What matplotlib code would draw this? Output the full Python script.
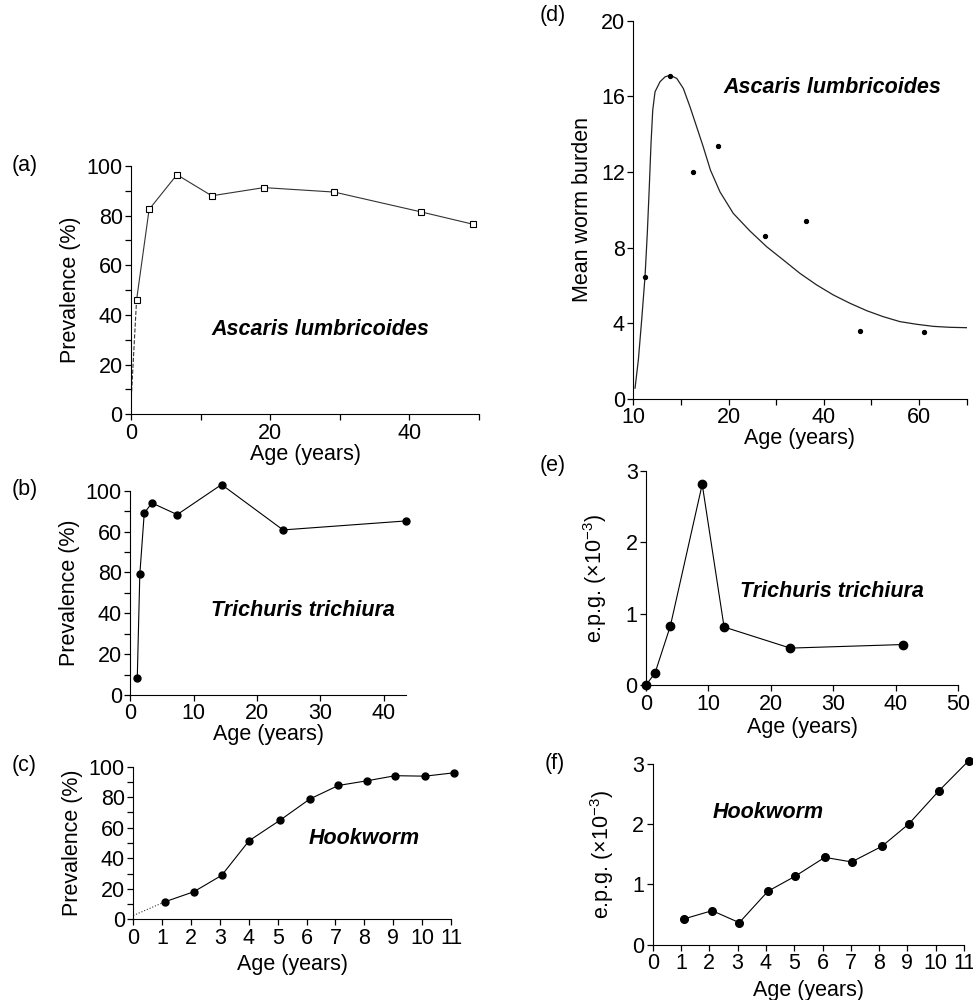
import numpy as np
import matplotlib
matplotlib.use('Agg')
import matplotlib.pyplot as plt
from matplotlib.ticker import MultipleLocator

plt.rcParams['font.family'] = ['Liberation Sans', 'DejaVu Sans']
plt.rcParams['mathtext.fontset'] = 'custom'
plt.rcParams['mathtext.rm'] = 'Liberation Sans'
plt.rcParams['font.size'] = 15.5

# (a) Ascaris prevalence
a_age = [0.8, 2.6, 6.6, 11.6, 19.1, 29.2, 41.7, 49.2]
a_prev = [46, 82.5, 96.5, 88, 91.3, 89.5, 81.5, 76.5]
a_start = [0.0, 4.5]

# (b) Trichuris prevalence (plotted as drawn; axis labels as printed)
b_age = [1.1, 1.5, 2.2, 3.4, 7.4, 14.4, 24.1, 43.5]
b_prev = [8.3, 59, 89, 94, 88.3, 103, 80.8, 85.2]
b_ticklabels = ['0', '20', '40', '80', '60', '100']

# (c) Hookworm prevalence
c_age = [1.1, 2.1, 3.06, 4.01, 5.07, 6.11, 7.1, 8.1, 9.07, 10.1, 11.1]
c_prev = [11.5, 18.1, 28.8, 51.5, 64.8, 78.8, 87.7, 90.8, 94.1, 93.8, 96.0]
c_start = [0.0, 2.5]

# (d) Ascaris mean worm burden
d_age = [11.2, 13.9, 16.3, 18.9, 27.7, 36.3, 47.6, 61.0]
d_burden = [6.47, 17.1, 11.98, 13.4, 8.63, 9.41, 3.59, 3.55]
d_fit_age = [10.18, 10.53, 10.88, 11.23, 11.47, 11.68, 11.86, 12.04, 12.28, 12.8,
             13.33, 13.85, 14.56, 15.25, 15.95, 16.65, 17.3, 18.1, 19.1, 21.0,
             24.5, 28.0, 31.5, 35.0, 38.5, 42.0, 45.5, 49.0, 52.5, 56.0, 59.5,
             63.0, 66.5, 70.0]
d_fit = [0.57, 2.06, 4.18, 6.47, 8.76, 11.22, 13.51, 15.27, 16.24, 16.77,
         17.03, 17.12, 16.95, 16.42, 15.45, 14.39, 13.4, 12.1, 10.95, 9.81,
         8.88, 8.05, 7.35, 6.64, 6.03, 5.5, 5.06, 4.67, 4.35, 4.09, 3.95,
         3.84, 3.79, 3.77]

# (e) Trichuris e.p.g.
e_age = [0.05, 1.44, 3.9, 9.0, 12.5, 23.1, 41.2]
e_epg = [0.01, 0.17, 0.83, 2.81, 0.815, 0.52, 0.57]

# (f) Hookworm e.p.g.
f_age = [1.12, 2.1, 3.06, 4.07, 5.03, 6.08, 7.03, 8.1, 9.05, 10.1, 11.17]
f_epg = [0.43, 0.565, 0.366, 0.887, 1.136, 1.45, 1.374, 1.634, 2.005, 2.548, 3.056]

fig = plt.figure(figsize=(9.73, 10), dpi=100)
W, H = 973, 1000


def make_ax(x0, y0, x1, y1):
    ax = fig.add_axes([x0 / W, 1 - y1 / H, (x1 - x0) / W, (y1 - y0) / H])
    ax.spines['top'].set_visible(False)
    ax.spines['right'].set_visible(False)
    ax.tick_params(which='both', direction='out', length=4, width=0.9, pad=2)
    return ax


line_kw = dict(color='#333333', lw=0.8)
ital = dict(fontweight='bold', fontstyle='italic', ha='center', va='center')

# (a)
ax = make_ax(131, 166, 479, 414.3)
ax.plot([a_start[0], a_age[0]], [a_start[1], a_prev[0]], ls='--', **line_kw)
ax.plot(a_age, a_prev, marker='s', ms=4, mfc='white', mec='black', mew=0.8,
        clip_on=False, **line_kw)
ax.set_xlim(0, 50)
ax.set_ylim(0, 100)
ax.set_xticks([0, 20, 40])
ax.xaxis.set_minor_locator(MultipleLocator(10))
ax.set_yticks([0, 20, 40, 60, 80, 100])
ax.yaxis.set_minor_locator(MultipleLocator(10))
ax.set_xlabel('Age (years)', labelpad=0)
ax.set_ylabel('Prevalence (%)', labelpad=4)
ax.text(27.2, 34.2, 'Ascaris lumbricoides', **ital)
fig.text(12 / W, 1 - 166 / H, '(a)', va='center')

# (b)
ax = make_ax(130.3, 490.7, 406, 695)
ax.plot(b_age, b_prev, marker='o', ms=5, color='black', lw=0.8, mfc='black',
        clip_on=False)
ax.set_xlim(0, 43.5)
ax.set_ylim(0, 100)
ax.set_xticks([0, 10, 20, 30, 40])
ax.set_yticks([0, 20, 40, 60, 80, 100])
ax.set_yticklabels(b_ticklabels)
ax.yaxis.set_minor_locator(MultipleLocator(10))
ax.set_xlabel('Age (years)', labelpad=0)
ax.set_ylabel('Prevalence (%)', labelpad=4)
ax.text(27.3, 41.6, 'Trichuris trichiura', **ital)
fig.text(12 / W, 1 - 490 / H, '(b)', va='center')

# (c)
ax = make_ax(133.3, 766.7, 451, 919.3)
ax.plot([c_start[0], c_age[0]], [c_start[1], c_prev[0]], ls=':', **line_kw)
ax.plot(c_age, c_prev, marker='o', ms=5, color='black', lw=0.8, clip_on=False)
ax.set_xlim(0, 11)
ax.set_ylim(0, 100)
ax.set_xticks(range(0, 12))
ax.set_yticks([0, 20, 40, 60, 80, 100])
ax.yaxis.set_minor_locator(MultipleLocator(10))
ax.set_xlabel('Age (years)', labelpad=4)
ax.set_ylabel('Prevalence (%)', labelpad=4)
ax.text(8.0, 53, 'Hookworm', **ital)
fig.text(12 / W, 1 - 766 / H, '(c)', va='center')


# (d) broken age scale: 10-20 stretched
def fwd(x):
    x = np.asarray(x, dtype=float)
    return np.where(x <= 20, (x - 10) / 5, 2 + (x - 20) / 10)


def inv(p):
    p = np.asarray(p, dtype=float)
    return np.where(p <= 2, 10 + 5 * p, 20 + 10 * (p - 2))


ax = make_ax(633.3, 20.7, 966.7, 399)
ax.set_xscale('function', functions=(fwd, inv))
ax.plot(d_fit_age, d_fit, color='#222222', lw=0.9)
ax.plot(d_age, d_burden, 'o', ms=2.8, color='black', ls='none')
ax.set_xlim(10, 70)
ax.set_ylim(0, 20)
ax.set_xticks([10, 15, 20, 30, 40, 50, 60, 70])
ax.set_xticklabels(['10', '', '20', '', '40', '', '60', ''])
ax.xaxis.set_minor_locator(plt.NullLocator())
ax.set_yticks([0, 4, 8, 12, 16, 20])
ax.set_xlabel('Age (years)', labelpad=0)
ax.set_ylabel('Mean worm burden', labelpad=6)
ax.text(41.9, 16.47, 'Ascaris lumbricoides', **ital)
fig.text(540 / W, 1 - 15 / H, '(d)', va='center')

# (e)
ax = make_ax(646, 470.7, 958.3, 685.3)
ax.plot(e_age, e_epg, marker='o', ms=6, color='black', lw=0.8, clip_on=False)
ax.set_xlim(0, 50)
ax.set_ylim(0, 3)
ax.set_xticks([0, 10, 20, 30, 40, 50])
ax.set_yticks([0, 1, 2, 3])
ax.set_xlabel('Age (years)', labelpad=2)
ax.set_ylabel(r'e.p.g. ($\times$10$^{-3}$)', labelpad=12)
ax.text(29.8, 1.31, 'Trichuris trichiura', **ital)
fig.text(540 / W, 1 - 465 / H, '(e)', va='center')

# (f)
ax = make_ax(652.7, 764, 964, 944.7)
ax.plot(f_age, f_epg, marker='o', ms=5.5, color='black', lw=0.8, clip_on=False)
ax.set_xlim(0, 11)
ax.set_ylim(0, 3)
ax.set_xticks(range(0, 12))
ax.set_yticks([0, 1, 2, 3])
ax.set_xlabel('Age (years)', labelpad=4)
ax.set_ylabel(r'e.p.g. ($\times$10$^{-3}$)', labelpad=12)
ax.text(4.09, 2.2, 'Hookworm', **ital)
fig.text(545 / W, 1 - 763 / H, '(f)', va='center')

fig.savefig('out.png', dpi=100)
